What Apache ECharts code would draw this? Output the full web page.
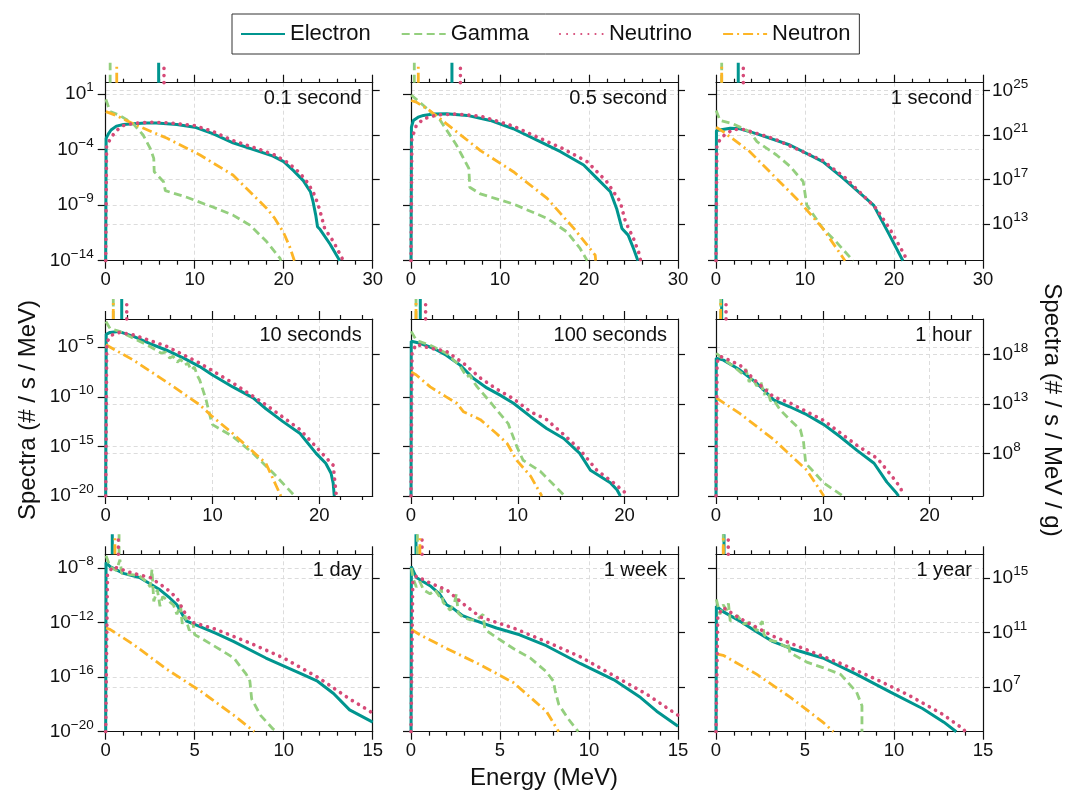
<!DOCTYPE html>
<html>
<head>
<meta charset="utf-8">
<title>Decay spectra</title>
<script src="https://cdn.jsdelivr.net/npm/echarts@6.0.0/dist/echarts.min.js"></script>
<style>
html,body{margin:0;padding:0;background:#fff}
#chart{width:1083px;height:810px}
</style>
</head>
<body>
<div id="chart"></div>
<script>
// panel titles (time after the event)
const panelTitles = ['0.1 second', '0.5 second', '1 second', '10 seconds', '100 seconds', '1 hour', '1 day', '1 week', '1 year']

// spectra, points are [energy (MeV), log10(# / s / MeV)]
const electronSpectra = [
  [[0,-14],[0.05,-3.0],[0.3,-2.6],[0.6,-2.25],[1.2,-1.9],[2,-1.75],[3.1,-1.68],[4.5,-1.63],[5.7,-1.63],[8,-1.75],[10,-2.0],[12.1,-2.6],[14.3,-3.4],[17.3,-4.2],[18.8,-4.6],[20,-5.1],[21.1,-5.9],[22.2,-6.8],[23,-7.8],[23.3,-8.7],[23.6,-9.9],[23.8,-10.95],[24.1,-11.2],[25.2,-12.5],[26.3,-14]],
  [[0,-14],[0.05,-2.0],[0.26,-1.4],[0.8,-1.1],[1.4,-0.94],[2.5,-0.82],[4,-0.8],[6.3,-0.94],[8.9,-1.39],[11.5,-2.14],[14.5,-3.3],[16.8,-4.2],[19.4,-5.4],[20.9,-6.6],[22.4,-7.8],[23.1,-9.3],[23.7,-11.1],[24.4,-11.7],[25,-12.9],[25.5,-14]],
  [[0,-14],[0.05,-2.3],[0.26,-2.3],[1.6,-2.1],[2.7,-2.15],[4.6,-2.6],[8.3,-3.6],[12,-5.1],[14.3,-6.6],[17.7,-9.0],[19.5,-11.7],[21,-14]],
  [[0,-20],[0.05,-3.7],[0.4,-3.5],[1.2,-3.4],[2.6,-3.9],[4.1,-4.6],[5.7,-5.3],[7.3,-6.1],[8.8,-6.95],[10,-7.8],[11.9,-9.0],[13.8,-10.1],[15,-11.2],[16.6,-12.5],[18.2,-13.7],[19.7,-15.7],[20.6,-16.7],[21.1,-17.7],[21.3,-18.7],[21.4,-20]],
  [[0,-20],[0.02,-4.4],[0.85,-4.6],[2.1,-5.1],[3.3,-5.8],[4.6,-6.8],[5.8,-8.1],[7.1,-9.1],[8.3,-9.8],[9.6,-10.65],[11.2,-12],[12.7,-13.2],[14.3,-14.2],[15.8,-15.7],[16.8,-17.4],[17.7,-18],[18.7,-18.7],[19.3,-19.4],[19.6,-20]],
  [[0,-20],[0.02,-6.1],[0.7,-6.3],[2.25,-7.3],[3.8,-8.6],[5.4,-10.3],[6.9,-11],[8.5,-11.8],[10.1,-12.8],[11.6,-14],[13.2,-15.4],[14.8,-16.7],[16,-18.6],[16.9,-19.7],[17.1,-20]],
  [[0,-20],[0.02,-7.6],[0.24,-7.9],[1,-8.4],[1.9,-8.7],[3.05,-9.6],[3.6,-10.2],[4,-10.7],[4.3,-11.4],[4.55,-11.9],[5.3,-12.3],[6.2,-12.8],[7.2,-13.4],[9,-14.6],[10.9,-15.7],[11.9,-16.3],[12.8,-17.2],[13.7,-18.4],[15,-19.3]],
  [[0,-20],[0.02,-7.9],[0.3,-8.7],[1.07,-9.3],[1.6,-9.9],[2,-10.7],[2.4,-11],[2.9,-11.5],[3.5,-11.8],[4.8,-12.4],[6.1,-12.9],[7.6,-13.7],[9.5,-15],[11.4,-16.2],[12.9,-17.5],[13.8,-18.5],[15,-19.6]],
  [[0,-20],[0.02,-10.8],[0.4,-11.2],[1.35,-11.9],[2.3,-12.7],[3.2,-13.4],[4.2,-13.9],[6,-14.6],[7.9,-15.8],[9.8,-17.1],[11.6,-18.3],[12.8,-19.3],[13.5,-20]]
]
const gammaSpectra = [
  [[0.02,0.5],[0.5,-0.6],[1.6,-0.95],[3.1,-1.7],[4.2,-2.7],[5.0,-3.9],[5.4,-4.8],[5.45,-6.0],[6.5,-6.9],[6.7,-7.7],[9.1,-8.3],[12.1,-9.2],[14.3,-9.9],[16.2,-10.8],[18.1,-12.3],[19.6,-13.8],[19.7,-14]],
  [[0.02,0.9],[1.4,-0.05],[3.3,-1.4],[5.1,-3.6],[5.7,-4.5],[6.5,-5.7],[6.6,-7.4],[7.8,-8.0],[11.5,-8.9],[15.3,-10.2],[17.5,-11.4],[19,-12.9],[19.8,-14]],
  [[0.02,-0.5],[0.45,-1.4],[1.9,-1.7],[3.8,-2.4],[4.6,-3.3],[6.8,-4.5],[8.3,-5.5],[9.8,-6.9],[10.2,-9.0],[12,-11.1],[13.5,-12.3],[15.4,-14]],
  [[0.02,-2.4],[0.4,-3.1],[1.3,-3.4],[2.6,-4.1],[4.1,-4.9],[5.2,-5.6],[5.6,-5.5],[6.0,-6.1],[6.3,-5.9],[6.7,-6.5],[7.0,-6.2],[7.4,-6.8],[7.7,-6.6],[8.0,-7.3],[8.3,-7.0],[8.6,-7.9],[8.8,-8.3],[9.1,-9.3],[9.4,-10.3],[9.9,-12.5],[10,-12.8],[11.9,-14],[13.8,-15.7],[15.7,-17.7],[17.7,-20]],
  [[0.02,-3.4],[0.5,-4.3],[1.8,-4.8],[3.3,-5.6],[4.6,-6.9],[5.0,-7.6],[5.2,-8.0],[5.5,-7.8],[5.8,-8.4],[6.2,-9.0],[7.4,-10.5],[9.1,-12.7],[9.9,-15.0],[10.5,-16.4],[12.1,-17.5],[14.4,-20]],
  [[0.02,-5.6],[0.7,-6.2],[1.6,-6.9],[2.5,-7.7],[2.8,-7.2],[3.1,-8.5],[3.4,-8.0],[3.8,-8.9],[4.2,-8.5],[4.5,-9.8],[4.8,-9.2],[5.1,-10.4],[5.4,-10.3],[6.0,-11.3],[6.9,-12.3],[7.9,-13.3],[8.2,-14.6],[8.4,-16.7],[9.1,-17.5],[10.1,-18.7],[11.9,-20]],
  [[0.02,-7.1],[0.24,-7.9],[0.6,-8.2],[0.8,-7.4],[0.9,-8.4],[1.55,-8.5],[1.9,-8.6],[2.3,-9.0],[2.5,-9.4],[2.6,-8.1],[2.7,-10.45],[2.9,-9.6],[3.05,-10.8],[3.2,-10.1],[3.4,-10.3],[3.8,-10.7],[4.0,-11.4],[4.2,-10.7],[4.3,-12.1],[4.45,-11.5],[4.7,-12.6],[4.9,-12.0],[5.0,-12.9],[5.3,-13.1],[6.2,-13.8],[7.2,-14.6],[7.9,-15.8],[8.1,-16.3],[8.2,-17.6],[8.7,-18.8],[9.4,-19.8],[9.6,-20]],
  [[0.02,-8.0],[0.13,-8.8],[0.3,-9.4],[0.5,-9.0],[0.7,-9.6],[1.07,-9.9],[1.35,-9.6],[1.6,-10.1],[1.7,-9.5],[1.8,-10.5],[2.0,-10.8],[2.2,-11.1],[2.45,-10.5],[2.55,-9.9],[2.65,-11.3],[2.9,-11.6],[3.3,-11.8],[3.7,-11.8],[4.05,-11.4],[4.15,-12.5],[4.8,-13.1],[5.75,-13.9],[6.7,-14.6],[7.6,-15.6],[8.0,-16.3],[8.1,-17],[8.3,-18],[8.8,-19],[9.4,-20]],
  [[0.02,-10.3],[0.22,-11.4],[0.4,-10.7],[0.6,-11.1],[0.7,-10.6],[0.8,-11.9],[1.2,-11.5],[1.55,-12.1],[1.9,-12.0],[2.3,-12.6],[2.6,-11.9],[2.7,-12.9],[3.05,-13.3],[3.4,-13.4],[3.95,-13.8],[4.05,-13.5],[4.15,-14.2],[5.1,-14.9],[6,-15.3],[7,-15.8],[7.9,-17.1],[8.2,-18.1],[8.2,-20]]
]
const neutrinoSpectra = [
  [[0,-14],[0.1,-3.6],[0.5,-3.1],[0.9,-2.6],[1.5,-2.1],[2,-1.85],[3.1,-1.66],[5,-1.55],[7,-1.6],[10,-1.85],[12.1,-2.4],[14.3,-3.2],[17.3,-4.0],[19,-4.5],[20.5,-5.2],[21.8,-6.1],[22.6,-6.9],[23.3,-7.8],[23.8,-8.8],[24.1,-9.6],[24.6,-11.1],[25.6,-12.3],[26.7,-14]],
  [[0,-14],[0.1,-3.0],[0.6,-1.84],[1.4,-1.25],[2.9,-0.9],[5.1,-0.82],[7.8,-1.0],[11.5,-1.9],[14.5,-3.0],[17,-3.9],[19.8,-5.1],[22,-6.9],[23.5,-8.7],[24.1,-10.5],[25,-12.0],[25.7,-13.5],[25.8,-14]],
  [[0,-14],[0.1,-3.5],[0.8,-2.8],[1.9,-2.2],[3.1,-2.2],[6.4,-3.0],[12,-5.0],[14.6,-6.6],[18,-9.3],[19.5,-11.1],[21.2,-13.5],[21.4,-14]],
  [[0,-20],[0.1,-4.5],[0.5,-3.8],[1.3,-3.5],[2.6,-3.75],[5.7,-4.9],[8.8,-6.6],[11.9,-8.6],[15,-10.8],[18.2,-13.3],[20,-15.4],[21.3,-16.9],[21.6,-20]],
  [[0,-20],[0.1,-5.5],[0.5,-4.7],[1.8,-5.1],[3.3,-5.4],[4.9,-6.6],[6.5,-8.1],[8,-9.2],[9.6,-10.2],[11.2,-11.5],[12.7,-12.3],[14.3,-13.8],[15.8,-15.3],[17.4,-17.4],[19,-18.7],[20.1,-19.7],[20.2,-20]],
  [[0,-20],[0.1,-6.5],[0.4,-5.9],[2.25,-6.8],[3.8,-8.5],[5.4,-10.0],[6.9,-10.6],[10.1,-12.4],[13.2,-14.9],[15.1,-16.2],[16.4,-17.9],[17.3,-19.2],[17.5,-20]],
  [[0,-20],[0.1,-8.5],[0.4,-7.9],[1.55,-8.4],[2.5,-8.7],[3.4,-9.5],[4,-10.2],[4.4,-11.2],[4.9,-12.0],[6.2,-12.5],[8.1,-13.5],[10,-14.6],[11.9,-16],[13.7,-17.6],[14.85,-18.5],[15,-18.7]],
  [[0,-20],[0.1,-9.0],[0.3,-8.6],[1.07,-9.1],[2,-9.6],[2.9,-10.6],[3.9,-11.6],[5.75,-12.4],[7.6,-13.4],[9.5,-14.5],[11.4,-15.9],[13.3,-17.3],[15,-18.8]],
  [[0,-20],[0.1,-11.5],[0.4,-10.9],[1.35,-11.7],[3.2,-13.0],[5.1,-14.0],[7,-15.0],[8.9,-16.1],[10.8,-17.3],[12.7,-18.7],[13.9,-19.8],[14,-20]]
]
const neutronSpectra = [
  [[0.02,-0.6],[1.2,-0.95],[3.1,-1.7],[6.9,-3.0],[10.6,-4.5],[14.3,-6.3],[18.1,-9.3],[19,-10.2],[20,-11.5],[20.7,-12.8],[21.2,-14]],
  [[0.02,0.4],[0.6,0.25],[2.1,-0.5],[4,-1.7],[7.8,-4.1],[11.5,-6.0],[15.3,-8.4],[18.3,-11.1],[20.1,-12.9],[20.7,-13.5],[20.75,-14]],
  [[0.02,-2.0],[0.8,-2.4],[3.8,-4.2],[6.4,-6.3],[9.4,-8.7],[12,-11.1],[14.5,-14]],
  [[0.02,-4.75],[2.6,-6.3],[5.7,-8.5],[8.8,-10.8],[10,-12],[11.9,-13.7],[15,-16.7],[16.4,-20]],
  [[0.02,-7.5],[0.5,-7.8],[1.8,-9.0],[3.3,-10],[4.3,-10.65],[4.9,-11.5],[6.5,-12.3],[8,-13.7],[9,-14.7],[9.9,-16.4],[11.2,-18],[12.25,-20]],
  [[0.02,-10.1],[2.25,-11.7],[5.4,-14.3],[8.5,-17.4],[10.1,-20]],
  [[0.02,-12.4],[0.24,-12.5],[1.55,-13.6],[3.4,-15.4],[5.3,-17],[7.2,-18.8],[8.35,-20]],
  [[0.02,-12.5],[0.5,-12.9],[2,-13.9],[3.9,-15.1],[5.75,-16.4],[7.6,-18.5],[8.3,-20]],
  [[0.02,-14.3],[0.4,-14.4],[2.3,-15.8],[4.2,-17.5],[6,-19.3],[6.6,-20]]
]

// mean energies (MeV), marked above each panel
const meanElectron = [5.95, 4.6, 2.5, 1.5, 0.87, 0.53, 0.37, 0.28, 0.45]
const meanGamma = [0.5, 0.37, 0.64, 0.71, 0.47, 0.44, 0.75, 0.36, 0.41]
const meanNeutrino = [6.55, 5.55, 3.07, 1.97, 1.37, 0.94, 0.71, 0.62, 0.69]
const meanNeutron = [1.24, 0.82, 0.64, 0.71, 0.47, 0.44, 0.52, 0.5, 0.41]

// axes per row
const rowXMax = [30, 25, 15]
const rowXMajor = [[0, 10, 20, 30], [0, 10, 20], [0, 5, 10, 15]]
const rowXMinor = [
  [2, 4, 6, 8, 12, 14, 16, 18, 22, 24, 26, 28],
  [2, 4, 6, 8, 12, 14, 16, 18, 22, 24],
  [1, 2, 3, 4, 6, 7, 8, 9, 11, 12, 13, 14]
]
const rowYMin = [-14, -20, -20]
const rowYMax = [2, -2.15, -7]
const rowLeftTicks = [[-14, -9, -4, 1], [-20, -15, -10, -5], [-20, -16, -12, -8]]
const rowRightTicks = [[13, 17, 21, 25], [8, 13, 18], [7, 11, 15]]
// log10 of the per gram factor (right axis)
const perGramShift = 23.72

const names = ['Electron', 'Gamma', 'Neutrino', 'Neutron']
const spectra = [electronSpectra, gammaSpectra, neutrinoSpectra, neutronSpectra]
const means = [meanElectron, meanGamma, meanNeutrino, meanNeutron]
const styles = [
  { color: '#00958f', width: 3, type: 'solid' },
  { color: '#94cf7e', width: 2.8, type: [8, 4.5] },
  { color: '#d64a78', width: 3.6, type: [0.1, 7], cap: 'round' },
  { color: '#fdb526', width: 2.8, type: [10, 4, 2, 4] }
]

const font = '"Liberation Sans", Arial, Helvetica, sans-serif'
const colLeft = [105.7, 411, 716]
const plotW = 267
const rowTop = [82.7, 319, 554.3]
const rowH = [178, 177, 177.4]
const markH = 20

const sup = v => String(v).replace('-', '\u2212')
const powLabel = v => '{b|10}{s|' + sup(Math.round(v)) + '}'
const powRich = {
  b: { fontSize: 19, fontFamily: font, color: '#111', lineHeight: 27 },
  s: { fontSize: 13.5, fontFamily: font, color: '#111', verticalAlign: 'top', lineHeight: 15 }
}
const blackLine = { color: '#111', width: 1.2 }
const gridLine = { color: '#dcdcdc', type: [4, 3], width: 1 }

const grid = [], xAxis = [], yAxis = [], series = [], title = []

for (let p = 0; p < 9; p++) {
  const r = Math.floor(p / 3), c = p % 3
  const left = colLeft[c], top = rowTop[r]
  // main plot grid
  const gMain = grid.length
  grid.push({ left: left, top: top, width: plotW, height: rowH[r], containLabel: false, outerBoundsMode: 'none' })
  // strip above the plot for mean energy marks
  const gMark = grid.length
  grid.push({ left: left, top: top - markH, width: plotW, height: markH, containLabel: false, outerBoundsMode: 'none' })

  const xBase = { type: 'value', min: 0, max: rowXMax[r], gridIndex: gMain, splitLine: { show: false }, minorTick: { show: false } }
  const xMain = xAxis.length
  xAxis.push(Object.assign({}, xBase, {
    position: 'bottom',
    axisLine: { show: true, onZero: false, lineStyle: blackLine },
    axisTick: { show: true, inside: false, length: 8, customValues: rowXMajor[r], lineStyle: blackLine },
    axisLabel: { show: true, customValues: rowXMajor[r], margin: 10, fontSize: 18.5, fontFamily: font, color: '#111' },
    splitLine: { show: true, lineStyle: gridLine }
  }))
  xAxis.push(Object.assign({}, xBase, {
    position: 'bottom',
    axisLine: { show: false, onZero: false },
    axisTick: { show: true, length: 4, customValues: rowXMinor[r], lineStyle: blackLine },
    axisLabel: { show: false }
  }))
  xAxis.push(Object.assign({}, xBase, {
    position: 'top',
    axisLine: { show: true, onZero: false, lineStyle: blackLine },
    axisTick: { show: true, length: 8, customValues: rowXMajor[r], lineStyle: blackLine },
    axisLabel: { show: false }
  }))
  xAxis.push(Object.assign({}, xBase, {
    position: 'top',
    axisLine: { show: false, onZero: false },
    axisTick: { show: true, length: 4, customValues: rowXMinor[r], lineStyle: blackLine },
    axisLabel: { show: false }
  }))
  const xMark = xAxis.length
  xAxis.push({ type: 'value', min: 0, max: rowXMax[r], gridIndex: gMark, show: false })

  const yMain = yAxis.length
  yAxis.push({
    type: 'value', gridIndex: gMain, position: 'left', min: rowYMin[r], max: rowYMax[r],
    axisLine: { show: true, onZero: false, lineStyle: blackLine },
    axisTick: { show: true, length: 8, customValues: rowLeftTicks[r], lineStyle: blackLine },
    axisLabel: { show: c === 0, customValues: rowLeftTicks[r], margin: 12, formatter: powLabel, rich: powRich },
    splitLine: { show: true, lineStyle: gridLine }
  })
  yAxis.push({
    type: 'value', gridIndex: gMain, position: 'right',
    min: rowYMin[r] + perGramShift, max: rowYMax[r] + perGramShift,
    axisLine: { show: true, onZero: false, lineStyle: blackLine },
    axisTick: { show: true, length: 7, customValues: rowRightTicks[r], lineStyle: blackLine },
    axisLabel: { show: c === 2, customValues: rowRightTicks[r], margin: 9, formatter: powLabel, rich: powRich },
    splitLine: { show: true, lineStyle: gridLine }
  })
  const yMark = yAxis.length
  yAxis.push({ type: 'value', gridIndex: gMark, min: 0, max: 1, show: false })

  for (let k = 0; k < 4; k++) {
    series.push({
      type: 'line', name: names[k], xAxisIndex: xMain, yAxisIndex: yMain,
      data: spectra[k][p], symbol: 'none', showSymbol: false, clip: true,
      lineStyle: styles[k], itemStyle: { color: styles[k].color }, z: 3 + (k === 2 ? 1 : 0)
    })
    series.push({
      type: 'line', name: names[k], xAxisIndex: xMark, yAxisIndex: yMark,
      data: [[means[k][p], 0], [means[k][p], 1]], symbol: 'none', clip: false,
      lineStyle: styles[k], itemStyle: { color: styles[k].color }
    })
  }

  title.push({
    text: panelTitles[p], right: 1083 - (left + plotW - 11), top: top + 6, padding: 0,
    textStyle: { fontSize: 20, fontWeight: 'normal', fontFamily: font, color: '#111' }
  })
}

const chart = echarts.init(document.getElementById('chart'), null, { renderer: 'canvas' })
chart.setOption({
  animation: false,
  backgroundColor: '#fff',
  title: title,
  legend: {
    data: names, left: 232, top: 14, orient: 'horizontal',
    itemWidth: 44, itemHeight: 14, itemGap: 30,
    padding: [9, 9, 9, 8], borderColor: '#333', borderWidth: 1, borderRadius: 0,
    itemStyle: { opacity: 0 },
    textStyle: { fontSize: 22, fontFamily: font, color: '#111' }
  },
  grid: grid, xAxis: xAxis, yAxis: yAxis, series: series,
  graphic: [
    { type: 'text', x: 544, y: 778, style: { text: 'Energy (MeV)', font: '24px ' + font, fill: '#111', align: 'center', verticalAlign: 'middle' } },
    { type: 'text', x: 28, y: 410, rotation: Math.PI / 2, style: { text: 'Spectra (# / s / MeV)', font: '24px ' + font, fill: '#111', align: 'center', verticalAlign: 'middle' } },
    { type: 'text', x: 1052, y: 410, rotation: -Math.PI / 2, style: { text: 'Spectra (# / s / MeV / g)', font: '24px ' + font, fill: '#111', align: 'center', verticalAlign: 'middle' } }
  ]
})
</script>
</body>
</html>
